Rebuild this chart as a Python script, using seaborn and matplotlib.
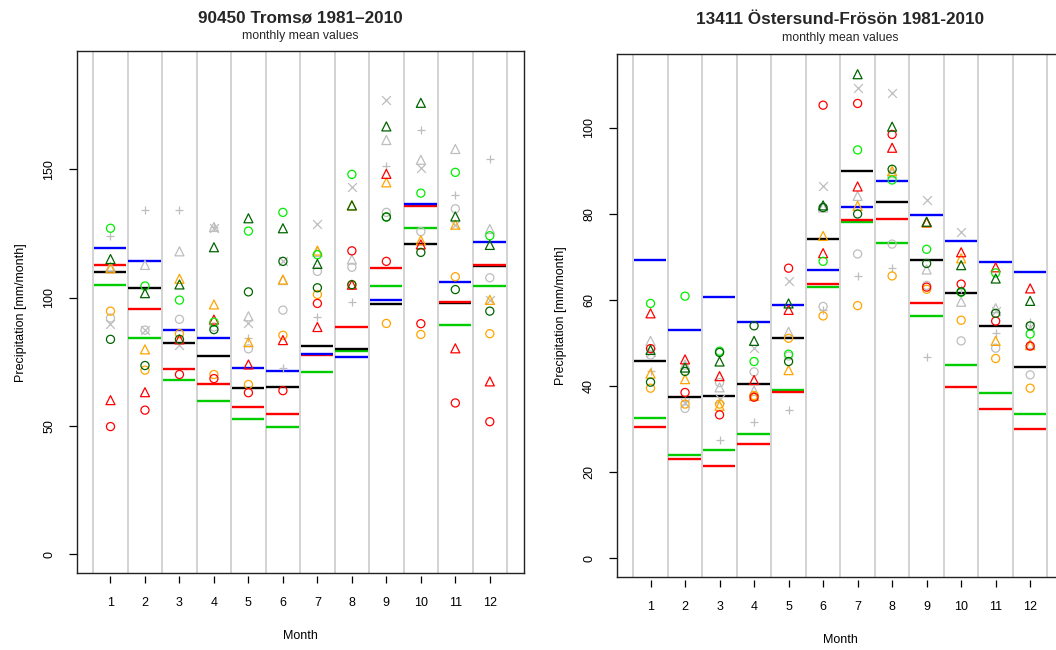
import numpy as np
import matplotlib
matplotlib.use("Agg")
import matplotlib.pyplot as plt
import seaborn as sns

# ---------------- data ----------------
months = [1, 2, 3, 4, 5, 6, 7, 8, 9, 10, 11, 12]
month_labels = ["1", "2", "3", "4", "5", "6", "7", "8", "9", "10", "11", "12"]

# Tromsø: horizontal mean lines
trom_black = [110.1, 103.9, 82.4, 77.4, 64.7, 65.3, 81.0, 79.8, 97.4, 120.7, 97.7, 112.2]
trom_blue = [119.2, 114.1, 87.5, 84.3, 72.6, 71.3, 78.0, 77.0, 99.0, 136.3, 106.2, 121.5]
trom_red = [112.5, 95.4, 72.3, 66.1, 57.3, 54.5, 77.5, 88.5, 111.7, 135.8, 98.1, 112.6]
trom_green = [104.9, 84.3, 67.7, 59.8, 52.6, 49.5, 71.0, 79.3, 104.3, 127.0, 89.1, 104.6]
# Tromsø: point series
trom_grey_circle = [92.0, 87.3, 91.5, 88.5, 80.0, 95.1, 110.2, 111.8, 133.2, 125.7, 134.6, 107.7]
trom_grey_tri = [112.0, 112.7, 118.0, 127.5, 92.7, 106.8, 117.8, 114.8, 161.4, 153.7, 157.9, 126.7]
trom_grey_x = [89.8, 87.3, 81.3, 127.0, 90.1, 114.1, 128.7, 143.2, 176.9, 150.5, 128.4, 99.1]
trom_grey_plus = [123.9, 134.0, 134.2, 127.5, 84.3, 72.4, 92.5, 98.2, 151.4, 165.4, 140.0, 154.1]
trom_orange_circle = [94.7, 71.7, 85.9, 70.0, 66.1, 85.3, 101.2, 105.0, 89.9, 85.6, 108.1, 85.9]
trom_orange_tri = [111.4, 79.8, 107.3, 97.3, 82.6, 107.0, 118.3, 135.9, 144.9, 122.3, 128.4, 99.1]
trom_red_circle = [49.7, 56.1, 70.0, 68.4, 62.9, 63.7, 97.7, 118.2, 114.1, 89.8, 58.9, 51.6]
trom_red_tri = [60.0, 63.1, 83.7, 91.4, 73.9, 83.4, 88.5, 105.0, 148.2, 120.7, 80.2, 67.3]
trom_lime_circle = [127.0, 104.5, 99.0, 90.4, 125.9, 133.2, 116.7, 148.0, 131.4, 140.7, 148.8, 124.1]
trom_dgreen_circle = [83.7, 73.5, 83.7, 87.5, 102.2, 114.1, 103.8, 105.0, 131.4, 117.6, 103.1, 94.7]
trom_dgreen_tri = [115.0, 101.7, 105.1, 119.6, 130.9, 127.0, 113.1, 135.9, 166.7, 175.9, 131.6, 120.5]

# Östersund: horizontal mean lines
oste_black = [45.9, 37.5, 37.7, 40.5, 51.1, 74.3, 90.1, 82.8, 69.2, 61.6, 54.0, 44.5]
oste_blue = [69.2, 53.0, 60.8, 54.9, 58.8, 67.0, 81.6, 87.7, 79.7, 73.7, 68.8, 66.4]
oste_red = [30.4, 23.1, 21.4, 26.6, 38.6, 63.7, 78.5, 78.8, 59.2, 39.7, 34.6, 29.9]
oste_green = [32.6, 24.0, 25.1, 28.9, 39.1, 63.1, 78.1, 73.3, 56.3, 44.9, 38.3, 33.4]
# Östersund: point series
oste_grey_circle = [47.2, 34.8, 40.8, 43.3, 47.0, 58.5, 70.7, 73.0, 63.4, 50.5, 48.8, 42.6]
oste_grey_tri = [50.5, 45.0, 39.7, 38.9, 52.6, 81.5, 84.2, 89.5, 67.1, 59.6, 58.1, 49.8]
oste_grey_x = [48.0, 36.1, 37.1, 48.8, 64.4, 86.4, 109.4, 108.1, 83.3, 75.9, 57.5, 53.8]
oste_grey_plus = [43.5, 36.5, 27.4, 31.7, 34.4, 57.7, 65.7, 67.5, 46.7, 62.5, 52.4, 54.8]
oste_orange_circle = [39.5, 35.8, 35.8, 37.8, 51.1, 56.3, 58.7, 65.6, 62.5, 55.3, 46.4, 39.5]
oste_orange_tri = [42.9, 41.6, 35.4, 37.7, 43.7, 74.9, 81.9, 90.0, 78.0, 69.7, 50.5, 49.5]
oste_red_circle = [48.7, 38.5, 33.3, 37.4, 67.4, 105.3, 105.7, 98.5, 63.0, 63.7, 55.1, 49.3]
oste_red_tri = [56.9, 46.2, 42.3, 41.4, 57.7, 70.9, 86.4, 95.4, 78.1, 71.1, 67.6, 62.7]
oste_lime_circle = [59.2, 60.9, 48.1, 45.7, 47.4, 69.0, 94.9, 87.9, 71.8, 61.8, 66.3, 52.1]
oste_dgreen_circle = [40.9, 43.4, 47.8, 54.0, 45.7, 81.5, 80.0, 90.4, 68.5, 61.9, 56.9, 54.0]
oste_dgreen_tri = [48.4, 44.3, 45.7, 50.5, 59.2, 82.0, 112.5, 100.3, 78.2, 68.1, 65.0, 59.8]

# ---------------- styles ----------------
RED, ORANGE, LIME, DGREEN, GREY = "#FF0000", "#FFA500", "#00EE00", "#006400", "#BEBEBE"
BLACK, BLUE, GREEN3 = "#000000", "#0000FF", "#00CD00"

sns.set_theme(style="ticks")
plt.rcParams['font.family'] = ['Liberation Sans', 'DejaVu Sans']

W, H = 1056, 650
fig = plt.figure(figsize=(W / 100, H / 100), dpi=100)


def draw_panel(ax, lines, points, ylim, yticks, title, title_base, sub_base):
    x = np.array(months, dtype=float)
    for k in range(13):
        ax.axvline(k + 0.5, color="#D3D3D3", lw=1.4, zorder=0)
    for vals, col in lines:
        ax.hlines(vals, x - 0.48, x + 0.46, colors=col, lw=1.7, zorder=2)
    for vals, col, mk in points:
        if mk in ("o", "^"):
            sns.scatterplot(x=x, y=vals, ax=ax, marker=mk, s=34 if mk == "o" else 42,
                            color=col, facecolors="none", edgecolor=col,
                            linewidth=0.9, legend=False, zorder=3)
        else:
            sns.scatterplot(x=x, y=vals, ax=ax, marker=mk, s=40, color=col,
                            linewidth=0.9, legend=False, zorder=3)
    ax.set_xlim(0.02, 12.98)
    ax.set_ylim(*ylim)
    ax.set_xticks([])
    ax.set_yticks(yticks)
    ax.set_yticklabels([str(t) for t in yticks], rotation=90, va="center", fontsize=9)
    ax.tick_params(axis="y", length=5.5, width=0.9, pad=10, colors="black", left=True)
    for sp in ax.spines.values():
        sp.set_visible(True)
        sp.set_color("#222222")
        sp.set_linewidth(1.0)
    ax.set_ylabel("Precipitation [mm/month]", fontsize=9, labelpad=12, color="black")
    sec = ax.secondary_xaxis(-0.006)
    sec.set_xticks(months)
    sec.set_xticklabels(month_labels, fontsize=9)
    sec.spines["bottom"].set_visible(False)
    sec.tick_params(axis="x", length=5, width=0.9, pad=10, colors="black")
    sec.set_xlabel("Month", fontsize=9, labelpad=15, color="black")
    pos = ax.get_position()
    cx = (pos.x0 + pos.x1) / 2
    fig.text(cx, 1 - title_base / H, title, ha="center", va="baseline",
             fontsize=12.3, fontweight="bold")
    fig.text(cx, 1 - sub_base / H, "monthly mean values", ha="center",
             va="baseline", fontsize=8.8)


def series(prefix):
    g = globals()
    lines = [(g[prefix + "_green"], GREEN3), (g[prefix + "_black"], BLACK),
             (g[prefix + "_red"], RED), (g[prefix + "_blue"], BLUE)]
    points = [(g[prefix + "_grey_circle"], GREY, "o"), (g[prefix + "_grey_tri"], GREY, "^"),
              (g[prefix + "_grey_x"], GREY, "x"), (g[prefix + "_grey_plus"], GREY, "+"),
              (g[prefix + "_orange_circle"], ORANGE, "o"), (g[prefix + "_orange_tri"], ORANGE, "^"),
              (g[prefix + "_red_circle"], RED, "o"), (g[prefix + "_red_tri"], RED, "^"),
              (g[prefix + "_lime_circle"], LIME, "o"),
              (g[prefix + "_dgreen_circle"], DGREEN, "o"), (g[prefix + "_dgreen_tri"], DGREEN, "^")]
    return lines, points


ax1 = fig.add_axes([76.7 / W, (H - 573.3) / H, 446.9 / W, 522.3 / H])
ax2 = fig.add_axes([616.7 / W, (H - 577.0) / H, 447.3 / W, 523.0 / H])

l1, p1 = series("trom")
draw_panel(ax1, l1, p1, (-7.5, 196.1), [0, 50, 100, 150],
           "90450 Tromsø 1981\u20132010", 22.7, 39.5)
l2, p2 = series("oste")
draw_panel(ax2, l2, p2, (-4.4, 117.2), [0, 20, 40, 60, 80, 100],
           "13411 Östersund-Frösön 1981-2010", 24.0, 41.5)

fig.savefig("out.png", dpi=100)
